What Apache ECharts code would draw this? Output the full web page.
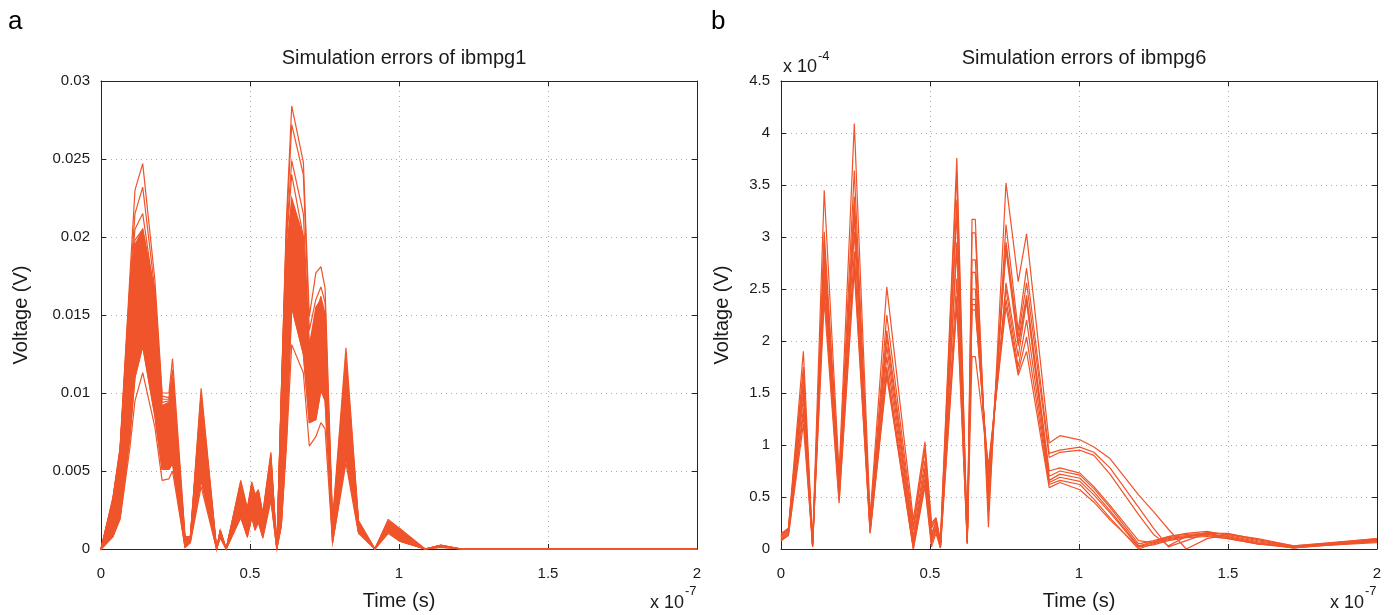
<!DOCTYPE html>
<html>
<head>
<meta charset="utf-8">
<title>Simulation errors</title>
<script src="https://cdn.jsdelivr.net/npm/echarts@6/dist/echarts.min.js"></script>
<style>
  html, body { margin: 0; padding: 0; background: #fff; }
  #main { width: 1394px; height: 615px; }
</style>
</head>
<body>
<div id="main"></div>
<script>
// time in units of 1e-7 s
const timeA = [0, 0.04, 0.064, 0.097, 0.114, 0.14, 0.181, 0.205, 0.228, 0.24, 0.282, 0.3, 0.336, 0.388, 0.40, 0.42,
  0.469, 0.491, 0.506, 0.517, 0.528, 0.543, 0.57, 0.59, 0.605, 0.622, 0.64, 0.679, 0.699, 0.721, 0.738, 0.752, 0.777,
  0.822, 0.864, 0.919, 0.964, 1.003, 1.087, 1.14, 1.21, 2.0];

// ibmpg1: dense band edges (V)
const bandLowA = [0, 0.0008, 0.0020, 0.0072, 0.0110, 0.0130, 0.0085, 0.0051, 0.0051, 0.0055, 0.0001, 0.0005, 0.0044, 0, 0.0008, 0,
  0.0021, 0.0008, 0.0021, 0.0013, 0.0018, 0.0008, 0.0033, 0, 0.0015, 0.0070, 0.0155, 0.0125, 0.0081, 0.0083, 0.0102, 0.0095, 0.0004,
  0.0059, 0.0011, 0, 0.0011, 0.0005, 0, 0.00012, 0, 0];
const bandHighA = [0, 0.0032, 0.0063, 0.0165, 0.0195, 0.0205, 0.0165, 0.0092, 0.0094, 0.0105, 0.0006, 0.0008, 0.0090, 0, 0.0012, 0,
  0.0040, 0.0024, 0.0040, 0.0032, 0.0036, 0.0021, 0.0058, 0, 0.0095, 0.0190, 0.0225, 0.0200, 0.0130, 0.0155, 0.0160, 0.0150, 0.0014,
  0.0110, 0.0017, 0, 0.0017, 0.0012, 0, 0.00024, 0, 0];

// ibmpg1: individual curves outside the dense band (V)
const errA1 = [0, 0.0033, 0.0065, 0.0175, 0.0230, 0.0247, 0.0172, 0.0100, 0.0100, 0.0122, 0.0008, 0.0008, 0.0103, 0, 0.0012, 0,
  0.0044, 0.0026, 0.0043, 0.0035, 0.0038, 0.0023, 0.0062, 0, 0.0100, 0.0210, 0.0284, 0.0248, 0.0149, 0.0177, 0.0181, 0.0167, 0.0018,
  0.0129, 0.0018, 0, 0.0019, 0.0013, 0, 0.00025, 0, 0];
const errA2 = [0, 0.0032, 0.0064, 0.0170, 0.0215, 0.0232, 0.0165, 0.0098, 0.0097, 0.0115, 0.0007, 0.0008, 0.0100, 0, 0.0012, 0,
  0.0043, 0.0025, 0.0042, 0.0034, 0.0037, 0.0022, 0.0060, 0, 0.0099, 0.0205, 0.0272, 0.0240, 0.0140, 0.0160, 0.0168, 0.0158, 0.0016,
  0.0124, 0.0018, 0, 0.0018, 0.0013, 0, 0.00024, 0, 0];
const errA3 = [0, 0.0032, 0.0063, 0.0168, 0.0205, 0.0215, 0.0160, 0.0096, 0.0096, 0.0110, 0.0006, 0.0008, 0.0097, 0, 0.0012, 0,
  0.0042, 0.0025, 0.0041, 0.0033, 0.0037, 0.0022, 0.0059, 0, 0.0098, 0.0200, 0.0249, 0.0215, 0.0130, 0.0150, 0.0162, 0.0150, 0.0015,
  0.0118, 0.0017, 0, 0.0018, 0.0012, 0, 0.00024, 0, 0];
const errA4 = [0, 0.0031, 0.0062, 0.0165, 0.0198, 0.0205, 0.0155, 0.0094, 0.0095, 0.0108, 0.0006, 0.0008, 0.0094, 0, 0.0012, 0,
  0.0041, 0.0024, 0.0041, 0.0033, 0.0036, 0.0021, 0.0058, 0, 0.0097, 0.0195, 0.0240, 0.0200, 0.0125, 0.0145, 0.0156, 0.0145, 0.0015,
  0.0114, 0.0017, 0, 0.0017, 0.0012, 0, 0.00023, 0, 0];
const errA5 = [0, 0.0008, 0.0019, 0.0065, 0.0095, 0.0113, 0.0078, 0.0044, 0.0045, 0.0050, 0.0001, 0.0004, 0.0040, 0, 0.0007, 0,
  0.0020, 0.0008, 0.0020, 0.0012, 0.0017, 0.0007, 0.0031, 0, 0.0015, 0.0065, 0.0131, 0.0113, 0.0066, 0.0072, 0.0081, 0.0077, 0.0004,
  0.0055, 0.0010, 0, 0.0010, 0.0005, 0, 0.0001, 0, 0];

// ibmpg6 time (1e-7 s) and errors (1e-4 V)
const timeB = [0, 0.025, 0.075, 0.106, 0.145, 0.195, 0.246, 0.299, 0.355, 0.444, 0.483, 0.505, 0.52, 0.535,
  0.59, 0.625, 0.641, 0.652, 0.696, 0.755, 0.796, 0.824, 0.9, 0.936, 1.003, 1.05, 1.104, 1.2, 1.25, 1.3,
  1.36, 1.43, 1.5, 1.6, 1.72, 2.0];
const errB1 = [0.15, 0.2, 1.9, 0.05, 3.45, 0.73, 4.09, 0.31, 2.52, 0.28, 1.03, 0.25, 0.3, 0.08,
  3.76, 0.07, 3.17, 3.17, 0.21, 3.52, 2.57, 3.03, 1.02, 1.09, 1.05, 0.98, 0.87, 0.52, 0.36, 0.19,
  0, 0.1, 0.14, 0.1, 0.03, 0.1];
const errB2 = [0.13, 0.2, 1.75, 0.04, 3.05, 0.68, 3.64, 0.27, 2.25, 0.22, 0.97, 0.22, 0.3, 0.06,
  3.62, 0.06, 3.04, 3.04, 0.35, 3.12, 2.1, 2.7, 0.92, 0.95, 0.98, 0.93, 0.78, 0.4, 0.2, 0.02,
  0.08, 0.15, 0.15, 0.09, 0.03, 0.09];
const errB3 = [0.12, 0.19, 1.69, 0.05, 2.95, 0.62, 3.39, 0.24, 2.1, 0.18, 0.94, 0.2, 0.28, 0.05,
  3.36, 0.08, 2.78, 2.78, 0.47, 2.95, 2.04, 2.56, 0.88, 0.93, 0.95, 0.9, 0.72, 0.33, 0.14, 0.03,
  0.12, 0.16, 0.14, 0.08, 0.02, 0.08];
const errB4 = [0.12, 0.18, 1.6, 0.03, 2.84, 0.58, 3.3, 0.22, 2.04, 0.12, 0.85, 0.15, 0.26, 0.04,
  3.23, 0.05, 2.66, 2.66, 0.55, 2.92, 1.98, 2.44, 0.75, 0.78, 0.73, 0.6, 0.42, 0.08, 0.06, 0.12,
  0.15, 0.17, 0.13, 0.07, 0.02, 0.07];
const errB5 = [0.1, 0.17, 1.53, 0.04, 2.75, 0.55, 3.2, 0.2, 1.95, 0.08, 0.78, 0.12, 0.25, 0.03,
  2.95, 0.07, 2.5, 2.5, 0.6, 2.87, 1.95, 2.4, 0.7, 0.75, 0.71, 0.58, 0.4, 0.05, 0.08, 0.12,
  0.14, 0.15, 0.12, 0.06, 0.01, 0.08];
const errB6 = [0.1, 0.16, 1.45, 0.03, 2.68, 0.52, 3.05, 0.18, 1.85, 0.05, 0.74, 0.1, 0.22, 0.02,
  2.9, 0.06, 2.4, 2.4, 0.65, 2.56, 1.85, 2.38, 0.66, 0.72, 0.68, 0.55, 0.37, 0.03, 0.07, 0.11,
  0.13, 0.14, 0.11, 0.05, 0.01, 0.07];
const errB7 = [0.09, 0.15, 1.35, 0.05, 2.6, 0.5, 2.86, 0.17, 1.75, 0.02, 0.68, 0.08, 0.2, 0.02,
  2.6, 0.08, 2.35, 2.35, 0.7, 2.5, 1.75, 2.2, 0.64, 0.69, 0.65, 0.52, 0.35, 0.02, 0.06, 0.1,
  0.12, 0.13, 0.1, 0.05, 0.02, 0.06];
const errB8 = [0.08, 0.14, 1.29, 0.02, 2.5, 0.47, 2.75, 0.16, 1.7, 0, 0.63, 0.05, 0.18, 0.01,
  2.43, 0.05, 2.3, 2.3, 0.75, 2.4, 1.7, 2.04, 0.62, 0.66, 0.62, 0.48, 0.3, 0, 0.05, 0.09,
  0.12, 0.14, 0.12, 0.06, 0.01, 0.09];
const errB9 = [0.08, 0.13, 1.2, 0.03, 2.39, 0.44, 2.68, 0.15, 1.66, 0, 0.6, 0.02, 0.15, 0.01,
  2.34, 0.07, 1.85, 1.85, 0.8, 2.33, 1.67, 1.9, 0.59, 0.64, 0.57, 0.45, 0.28, 0.02, 0.04, 0.08,
  0.11, 0.12, 0.1, 0.05, 0.02, 0.1];

const FONT = '"Liberation Sans", Arial, sans-serif';
const ORANGE = '#F0542A';
const INK = '#262626';

const pairs = (t, v) => t.map((x, i) => [x, v[i]]);

function xAxisOf(gridIndex, bottom) {
  return {
    type: 'value', gridIndex: gridIndex, position: bottom ? 'bottom' : 'top',
    min: 0, max: 2, interval: 0.5,
    axisLine: { show: true, onZero: false, lineStyle: { color: INK, width: 1 } },
    axisTick: { show: true, inside: true, length: 5, lineStyle: { color: INK } },
    axisLabel: { show: bottom, color: '#1a1a1a', fontSize: 15, fontFamily: FONT, margin: 17 },
    splitLine: { show: bottom, lineStyle: { color: '#a9a9a9', type: [1, 4], width: 1 } },
    name: bottom ? 'Time (s)' : '', nameLocation: 'middle', nameGap: 42,
    nameTextStyle: { fontSize: 20, color: '#1a1a1a', fontFamily: FONT }
  };
}

function yAxisOf(gridIndex, left, max, interval, gap) {
  return {
    type: 'value', gridIndex: gridIndex, position: left ? 'left' : 'right',
    min: 0, max: max, interval: interval,
    axisLine: { show: true, onZero: false, lineStyle: { color: INK, width: 1 } },
    axisTick: { show: true, inside: true, length: 5, lineStyle: { color: INK } },
    axisLabel: { show: left, color: '#1a1a1a', fontSize: 15, fontFamily: FONT, margin: 11 },
    splitLine: { show: left, lineStyle: { color: '#a9a9a9', type: [1, 4], width: 1 } },
    name: left ? 'Voltage (V)' : '', nameLocation: 'middle', nameGap: gap,
    nameTextStyle: { fontSize: 20, color: '#1a1a1a', fontFamily: FONT }
  };
}

function lineOf(data, xi, yi) {
  return {
    type: 'line', data: data, xAxisIndex: xi, yAxisIndex: yi,
    showSymbol: false, symbol: 'none', clip: false, silent: true, animation: false,
    lineStyle: { color: ORANGE, width: 1.2 }, itemStyle: { color: ORANGE }
  };
}

// dense band of ibmpg1: polygon between the two edges, placed through the axes
const bandSeries = {
  type: 'custom', coordinateSystem: 'cartesian2d', xAxisIndex: 0, yAxisIndex: 0,
  silent: true, animation: false, clip: false,
  data: [[1, 0.01]],
  renderItem: function (params, api) {
    const upper = timeA.map((t, i) => api.coord([t, bandHighA[i]]));
    const lower = timeA.map((t, i) => api.coord([t, bandLowA[i]])).reverse();
    return {
      type: 'polygon',
      shape: { points: upper.concat(lower) },
      style: { fill: ORANGE, stroke: ORANGE, lineWidth: 1.2 }
    };
  }
};

const series = [bandSeries];
[errA1, errA2, errA3, errA4, errA5].forEach(v => series.push(lineOf(pairs(timeA, v), 0, 0)));
series.push(lineOf(pairs(timeA, bandLowA), 0, 0));
[errB1, errB2, errB3, errB4, errB5, errB6, errB7, errB8, errB9].forEach(v => series.push(lineOf(pairs(timeB, v), 2, 2)));

const chart = echarts.init(document.getElementById('main'), null, { renderer: 'canvas' });
chart.setOption({
  backgroundColor: '#ffffff',
  animation: false,
  title: [
    { text: 'Simulation errors of ibmpg1', left: 399, top: 43, textAlign: 'center',
      textStyle: { fontSize: 20, fontWeight: 'normal', color: '#1a1a1a', fontFamily: FONT } },
    { text: 'Simulation errors of ibmpg6', left: 1079, top: 43, textAlign: 'center',
      textStyle: { fontSize: 20, fontWeight: 'normal', color: '#1a1a1a', fontFamily: FONT } }
  ],
  grid: [
    { left: 101, top: 81, width: 596, height: 468, outerBoundsMode: 'none' },
    { left: 781, top: 81, width: 596, height: 468, outerBoundsMode: 'none' }
  ],
  xAxis: [xAxisOf(0, true), xAxisOf(0, false), xAxisOf(1, true), xAxisOf(1, false)],
  yAxis: [
    yAxisOf(0, true, 0.03, 0.005, 70), yAxisOf(0, false, 0.03, 0.005, 0),
    yAxisOf(1, true, 4.5, 0.5, 49), yAxisOf(1, false, 4.5, 0.5, 0)
  ],
  graphic: [
    { type: 'text', x: 8, y: 22, style: { text: 'a', font: '26px ' + FONT, fill: '#000', verticalAlign: 'middle' } },
    { type: 'text', x: 711, y: 22, style: { text: 'b', font: '26px ' + FONT, fill: '#000', verticalAlign: 'middle' } },
    { type: 'text', x: 650, y: 603, style: { text: 'x 10', font: '18px ' + FONT, fill: '#1a1a1a', verticalAlign: 'middle' } },
    { type: 'text', x: 685, y: 591, style: { text: '-7', font: '13px ' + FONT, fill: '#1a1a1a', verticalAlign: 'middle' } },
    { type: 'text', x: 1330, y: 603, style: { text: 'x 10', font: '18px ' + FONT, fill: '#1a1a1a', verticalAlign: 'middle' } },
    { type: 'text', x: 1365, y: 591, style: { text: '-7', font: '13px ' + FONT, fill: '#1a1a1a', verticalAlign: 'middle' } },
    { type: 'text', x: 783, y: 67, style: { text: 'x 10', font: '18px ' + FONT, fill: '#1a1a1a', verticalAlign: 'middle' } },
    { type: 'text', x: 818, y: 56, style: { text: '-4', font: '13px ' + FONT, fill: '#1a1a1a', verticalAlign: 'middle' } }
  ],
  series: series
});
</script>
</body>
</html>
